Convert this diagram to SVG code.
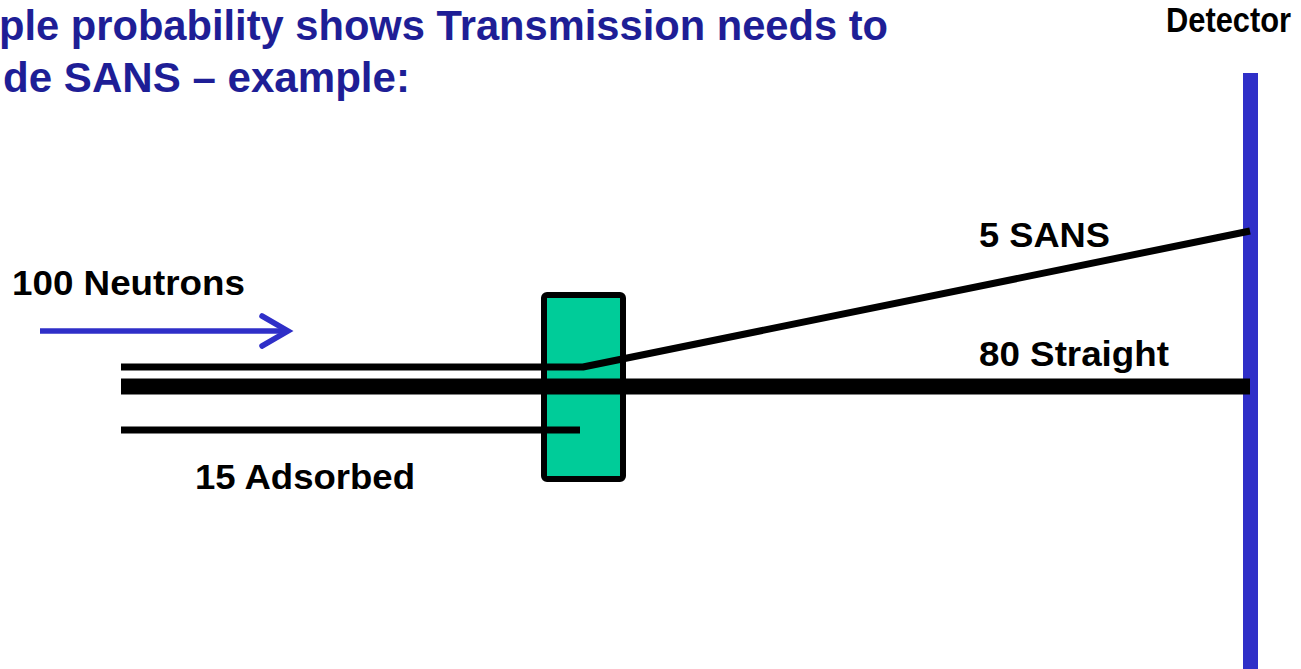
<svg xmlns="http://www.w3.org/2000/svg" width="1301" height="669" viewBox="0 0 1301 669">
  <style>
    .title { font-family: "Liberation Sans", Arial, sans-serif; font-weight: bold; font-size: 42px; fill: #1e1e96; }
    .label { font-family: "Liberation Sans", Arial, sans-serif; font-weight: bold; font-size: 35px; fill: #000; }
    .beam { stroke: #000; fill: none; stroke-linecap: butt; stroke-linejoin: round; }
    .blue { stroke: #2f2fc8; fill: none; }
  </style>
  <rect width="1301" height="669" fill="#fff"/>

  <!-- heading -->
  <g id="title">
    <text class="title" x="-1" y="40" textLength="889" lengthAdjust="spacingAndGlyphs">ple probability shows Transmission needs to</text>
    <text class="title" x="3" y="92" textLength="407" lengthAdjust="spacingAndGlyphs">de SANS – example:</text>
  </g>

  <!-- detector plane -->
  <g id="detector">
    <line class="blue" x1="1250.5" y1="73" x2="1250.5" y2="669" stroke-width="15"/>
    <text class="label" x="1166" y="32" font-size="25" textLength="125" lengthAdjust="spacingAndGlyphs">Detector</text>
  </g>

  <!-- incoming beam direction -->
  <g id="incident">
    <line class="blue" x1="40" y1="331" x2="286" y2="331" stroke-width="5.5"/>
    <polyline class="blue" points="262,316 288,331 262,346" stroke-width="5.5" stroke-linecap="round" stroke-linejoin="miter"/>
    <text class="label" x="12" y="295" textLength="233" lengthAdjust="spacingAndGlyphs">100 Neutrons</text>
  </g>

  <!-- sample -->
  <g id="sample">
    <rect x="544" y="295" width="79" height="184" rx="3" fill="#00cc99" stroke="#000" stroke-width="6"/>
  </g>

  <!-- neutron paths -->
  <g id="connectors">
    <polyline class="beam" points="121,367 583,367 1250,231" stroke-width="7"/>
    <line class="beam" x1="121" y1="386.5" x2="1250" y2="386.5" stroke-width="16"/>
    <line class="beam" x1="121" y1="430" x2="580" y2="430" stroke-width="7"/>
  </g>

  <g id="labels">
    <text class="label" x="979" y="247" textLength="131" lengthAdjust="spacingAndGlyphs">5 SANS</text>
    <text class="label" x="979" y="366" textLength="190" lengthAdjust="spacingAndGlyphs">80 Straight</text>
    <text class="label" x="195" y="489" textLength="220" lengthAdjust="spacingAndGlyphs">15 Adsorbed</text>
  </g>
</svg>
